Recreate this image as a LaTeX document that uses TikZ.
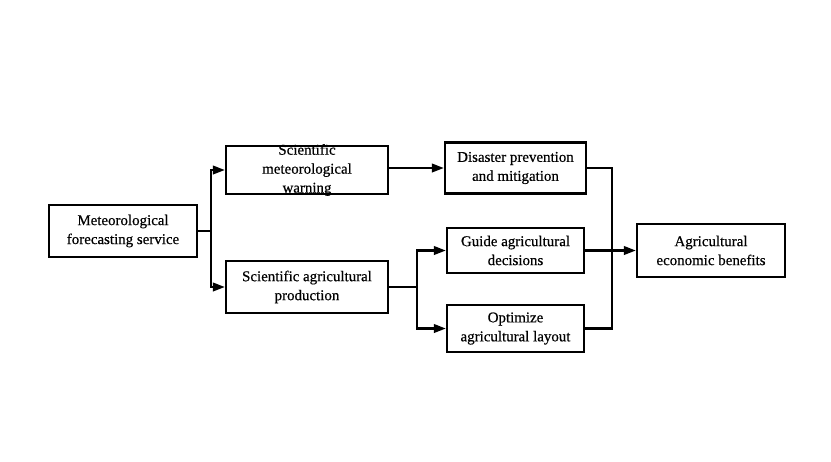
\documentclass[tikz,border=0pt]{standalone}
\usepackage{fontspec}
\setmainfont{Liberation Serif}
\newfontfamily\boxfont{Liberation Serif}[BoldFont=Liberation Serif, BoldFeatures={FakeBold=0.5}]
\usetikzlibrary{arrows.meta,positioning}

\tikzset{
  box/.style={draw, line width=1.3pt, inner sep=0pt, align=center},
  txt/.style={align=center, inner sep=0pt},
  conn/.style={line width=1.3pt},
  arr/.style={conn, -{Triangle[length=2.4mm,width=1.7mm]}}
}

\begin{document}
\begin{tikzpicture}[x=0.02cm,y=-0.02cm,font=\boxfont\bfseries\fontsize{8.5}{10.8}\selectfont]
  \useasboundingbox (0,0) rectangle (831,461);
  \node[box, minimum width=148*0.02cm, minimum height=52*0.02cm] (meteo) at (123,231) {Meteorological\\forecasting service};
  \node[box, minimum width=162*0.02cm, minimum height=48*0.02cm] (warn) at (307,170) {};
  \node[txt] (warntxt) at (warn.center) {Scientific\\meteorological\\warning};
  \node[box, minimum width=162*0.02cm, minimum height=52*0.02cm] (prod) at (307,287) {Scientific agricultural\\production};
  \node[box, minimum width=141*0.02cm, minimum height=51*0.02cm] (disaster) at (515.5,168) {Disaster prevention\\and mitigation};
  \node[box, minimum width=137*0.02cm, minimum height=45*0.02cm] (guide) at (515.5,250.5) {Guide agricultural\\decisions};
  \node[box, minimum width=137*0.02cm, minimum height=47*0.02cm] (optim) at (515.5,328.5) {Optimize\\agricultural layout};
  \node[box, minimum width=148*0.02cm, minimum height=53*0.02cm] (benefit) at (711,250.5) {Agricultural\\economic benefits};
  \coordinate (split1) at (211,231);
  \coordinate (split2) at (417,287);
  \coordinate (merge) at (612,250.5);
  % left part
  \draw[conn] (meteo.east) -- (split1);
  \draw[arr] (split1) |- (warn.west);
  \draw[arr] (split1) |- (prod.west);
  \draw[arr] (warn.east |- disaster.west) -- (disaster.west);
  % right part
  \draw[conn] (prod.east |- split2) -- (split2);
  \draw[arr] (split2) |- (guide.west);
  \draw[arr] (split2) |- (optim.west);
  \draw[conn] (disaster.east) -| (merge);
  \draw[conn] (optim.east) -| (merge);
  \draw[arr] (guide.east) -- (benefit.west);
\end{tikzpicture}
\end{document}
